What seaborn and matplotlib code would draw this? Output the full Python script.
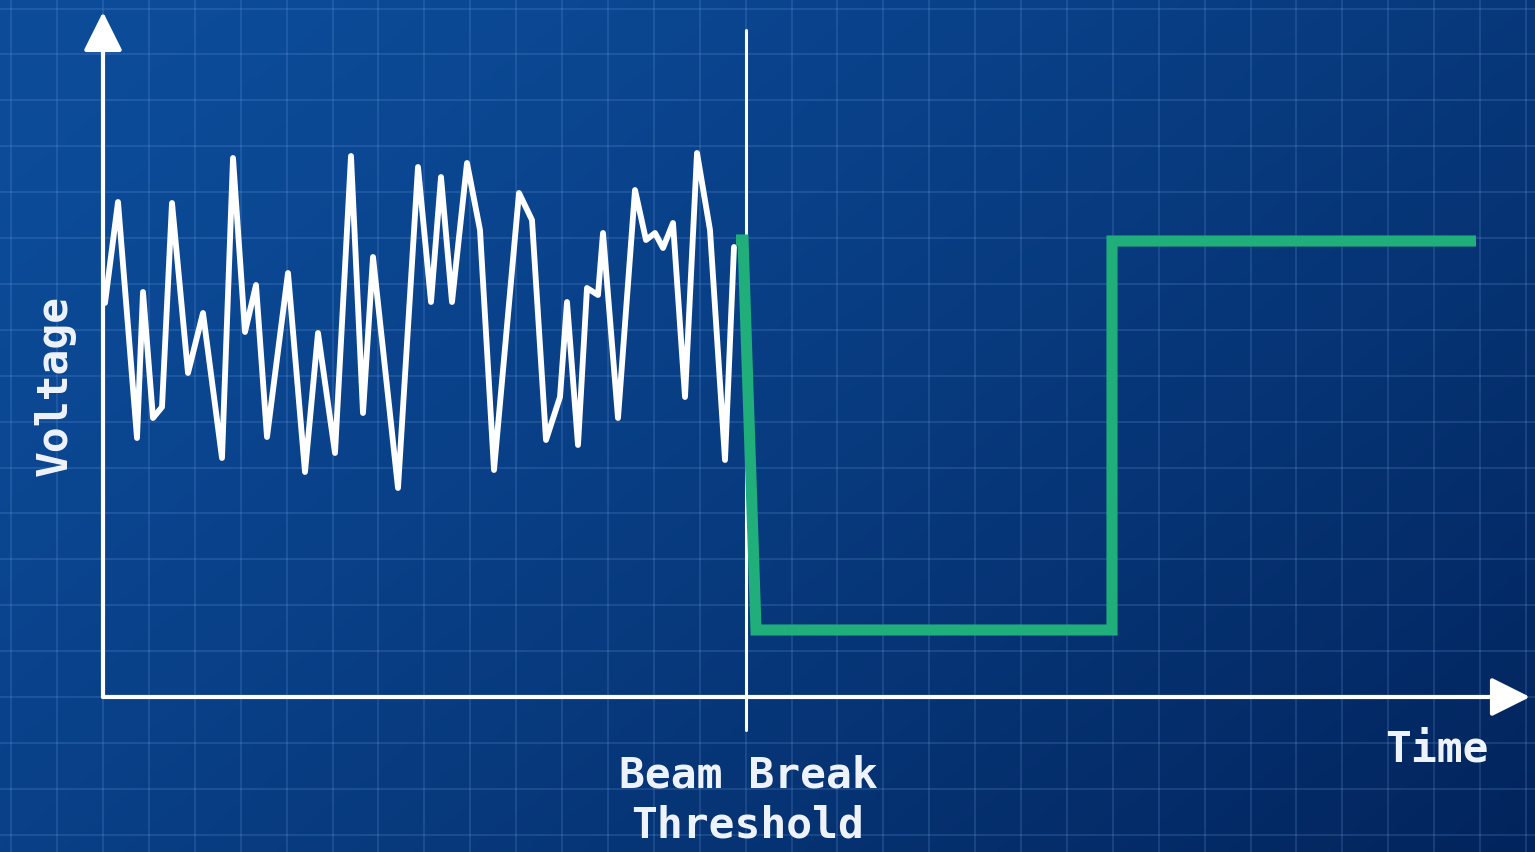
import numpy as np
import pandas as pd
import matplotlib
matplotlib.use("Agg")
import matplotlib.pyplot as plt
import seaborn as sns

# signal before the beam break (time, voltage), arbitrary units
noise_t = [2, 15, 34, 40, 50, 59, 69, 85, 100, 119, 130, 142, 153, 164, 185,
           202, 215, 232, 248, 260, 270, 295, 315, 328, 338, 349, 364, 377,
           391, 416, 429, 443, 457, 464, 475, 484, 495, 500, 515, 532, 543,
           552, 560, 570, 582, 594, 607, 622, 631]
noise_v = [394, 495, 259, 405, 279, 290, 494, 324, 384, 239, 539, 365, 412,
           260, 424, 225, 364, 244, 541, 284, 440, 209, 530, 395, 520, 395,
           534, 467, 227, 504, 477, 257, 300, 395, 252, 409, 402, 464, 279,
           507, 457, 464, 449, 474, 300, 544, 467, 237, 450]

# digital output after the threshold
step_t = [633, 640, 653, 1009, 1009, 1373]
step_v = [457, 457, 67, 67, 456, 456]

threshold_t = 643
threshold_span = [-33, 667]
x_end = 1427
y_end = 685

cell = 45.9
xlim = (-103, 1432)
ylim = (-155, 697)

sns.set_style("white")
plt.rcParams["font.family"] = ["DejaVu Sans Mono", "DejaVu Sans"]

fig = plt.figure(figsize=(15.35, 8.52), dpi=100)
ax = fig.add_axes([0, 0, 1, 1])

# blueprint background
gx, gy = np.meshgrid(np.linspace(0, 1, 300), np.linspace(0, 1, 200))
w = np.clip(0.65 * gx + 0.45 * gy - 0.1, 0, 1) ** 1.2
light = np.array([12, 75, 152]) / 255
dark = np.array([2, 36, 92]) / 255
bg = light[None, None, :] * (1 - w[..., None]) + dark[None, None, :] * w[..., None]
ax.imshow(bg, extent=[xlim[0], xlim[1], ylim[0], ylim[1]], origin="upper",
          aspect="auto", zorder=0)

ax.set_xticks(np.arange(-2, 32) * cell)
ax.set_yticks(np.arange(-3, 16) * cell)
ax.grid(True, color="#6fa3e6", alpha=0.21, lw=1.3, zorder=1)
ax.set_axisbelow(False)
ax.tick_params(length=0, labelbottom=False, labelleft=False)
for s in ax.spines.values():
    s.set_visible(False)

# axes with arrows
arrow = dict(arrowstyle="-|>,head_length=0.4,head_width=0.2", lw=3,
             color="white", mutation_scale=60, shrinkA=0, shrinkB=0)
ax.annotate("", xy=(0, y_end), xytext=(0, 0), arrowprops=arrow, zorder=5)
ax.annotate("", xy=(x_end, 0), xytext=(0, 0), arrowprops=arrow, zorder=5)
ax.plot([threshold_t, threshold_t], threshold_span, color="white", lw=2.2,
        zorder=4)

df_noise = pd.DataFrame({"t": noise_t, "v": noise_v})
df_step = pd.DataFrame({"t": step_t, "v": step_v})
sns.lineplot(data=df_noise, x="t", y="v", sort=False, estimator=None,
             color="white", lw=4.2, ax=ax, zorder=6,
             solid_joinstyle="round", solid_capstyle="round")
sns.lineplot(data=df_step, x="t", y="v", sort=False, estimator=None,
             color="#20ae7b", lw=8, ax=ax, zorder=7,
             solid_joinstyle="miter", solid_capstyle="butt")
ax.set_xlabel("")
ax.set_ylabel("")

txt = dict(color="#eef3fb", fontsize=31, fontweight="bold", zorder=8)
ax.text(-48, 312, "Voltage", rotation=90, ha="center", va="center", **txt)
ax.text(1334, -53, "Time", ha="center", va="center", **txt)
ax.text(645, -58, "Beam Break\nThreshold", ha="center", va="top",
        linespacing=1.22, **txt)

ax.set_xlim(xlim)
ax.set_ylim(ylim)

fig.savefig("out.png", dpi=100)
